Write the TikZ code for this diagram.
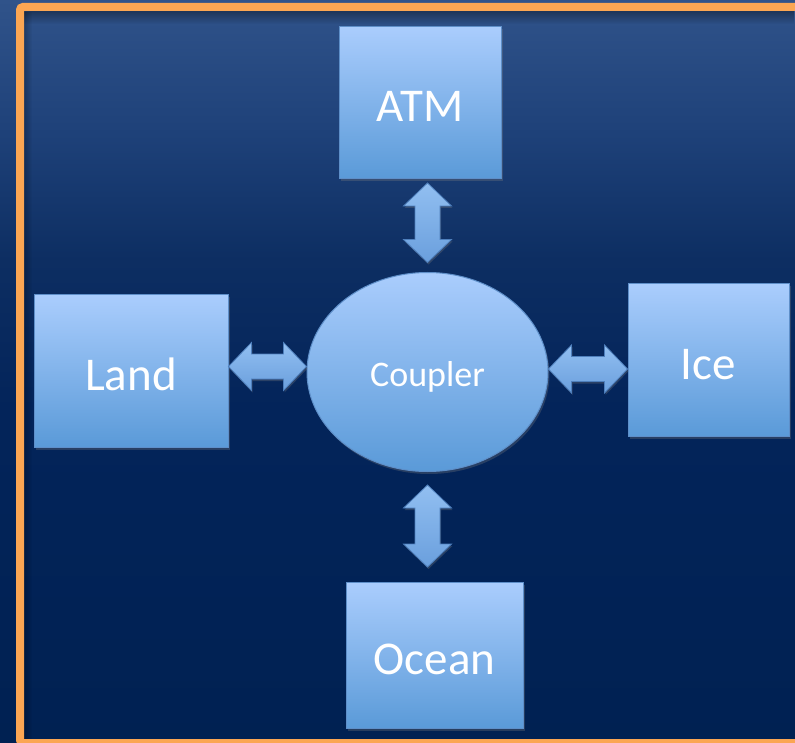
\documentclass[tikz,border=0pt]{standalone}
\usepackage{fontspec}
\setmainfont{Carlito}
\usetikzlibrary{positioning, arrows.meta, calc, shapes.geometric, shadows, fadings}

\definecolor{bgtop}{HTML}{30538A}
\definecolor{bgupper}{HTML}{1E4179}
\definecolor{bgmid}{HTML}{0D2E62}
\definecolor{bglow}{HTML}{03245A}
\definecolor{bgbot}{HTML}{002152}
\definecolor{frameorange}{HTML}{FBA653}
\definecolor{boxtop}{HTML}{AACDFD}
\definecolor{boxbot}{HTML}{5A9AD8}
\definecolor{boxline}{HTML}{5E8FC9}
\definecolor{arrowtop}{HTML}{92BFF1}
\definecolor{arrowbot}{HTML}{6A9FDD}
\definecolor{arrowline}{HTML}{4E7FBC}

% only the middle half (25bp to 75bp) ends up on the page
\pgfdeclareverticalshading{backdrop}{100bp}{color(0bp)=(bgbot); color(25bp)=(bgbot);
    color(47.5bp)=(bglow); color(57.5bp)=(bgmid); color(66bp)=(bgupper); color(75bp)=(bgtop); color(100bp)=(bgtop)}

\begin{document}
\begin{tikzpicture}[x=1pt, y=-1pt,
    modelbox/.style={rectangle, draw=boxline, line width=1pt, top color=boxtop, bottom color=boxbot,
        text=white, font=\fontsize{47}{56}\selectfont, text height=38.3pt, text depth=0pt, inner sep=0pt,
        drop shadow={shadow xshift=1.5pt, shadow yshift=-2.5pt, opacity=0.3}},
    couplernode/.style={ellipse, draw=boxline, line width=1pt, top color=boxtop, bottom color=boxbot,
        text=white, font=\fontsize{36}{43}\selectfont, text height=29.3pt, text depth=0pt, inner sep=0pt,
        minimum width=241pt, minimum height=199pt,
        drop shadow={shadow xshift=1.5pt, shadow yshift=-2.5pt, opacity=0.3}},
    % fat arrow with a head at both ends
    twoway/.style={draw=arrowline, line width=0.8pt, line join=miter, top color=arrowtop, bottom color=arrowbot,
        drop shadow={shadow xshift=1pt, shadow yshift=-2pt, opacity=0.3},
        to path={let \p1=($(\tikztostart)!23pt!(\tikztotarget)$), \p2=($(\tikztotarget)!23pt!(\tikztostart)$) in
            (\tikztostart) -- ($(\p1)!24pt!90:(\tikztotarget)$) -- ($(\p1)!12.5pt!90:(\tikztotarget)$)
            -- ($(\p2)!12.5pt!-90:(\tikztostart)$) -- ($(\p2)!24pt!-90:(\tikztostart)$) -- (\tikztotarget)
            -- ($(\p2)!24pt!90:(\tikztostart)$) -- ($(\p2)!12.5pt!90:(\tikztostart)$)
            -- ($(\p1)!12.5pt!-90:(\tikztotarget)$) -- ($(\p1)!24pt!-90:(\tikztotarget)$) -- cycle}},
]
\useasboundingbox (0,0) rectangle (795,743);
\clip (0,0) rectangle (795,743);
\shade[shading=backdrop] (0,0) rectangle (795,743);

% dark rim just inside the frame
\fill[black, opacity=0.35, path fading=south] (24,11) rectangle (795,24);
\fill[black, opacity=0.25, path fading=east] (24,11) rectangle (32,743);
\draw[frameorange, line width=8pt, rounded corners=3pt] (20,7) rectangle (803,743);

\node[couplernode] (coupler) at (427.5,372) {Coupler};
\node[modelbox, minimum width=162pt, minimum height=152pt](atm)[above = 93pt of coupler, xshift=-7.5pt]{ATM};
\node[modelbox, minimum width=194pt, minimum height=152pt](land)[left = 78pt of coupler, yshift=1pt]{Land};
\node[modelbox, minimum width=161pt, minimum height=152pt](ice)[right = 79pt of coupler, yshift=12pt]{Ice};
\node[modelbox, minimum width=177pt, minimum height=146pt](ocean)[below = 110pt of coupler, xshift=7pt]{Ocean};

% ends of the exchange arrows
\coordinate (atmtip) at ([yshift=-4pt]coupler.north |- atm.south);
\coordinate (cpltop) at ([yshift=9.5pt]coupler.north);
\coordinate (cplbot) at ([yshift=-13pt]coupler.south);
\coordinate (oceantip) at ([yshift=15pt]coupler.south |- ocean.north);
\coordinate (landtip) at ([yshift=5.5pt]coupler.west -| land.east);
\coordinate (cplleft) at ([yshift=5.5pt]coupler.west);
\coordinate (cplright) at ([yshift=3pt]coupler.east);
\coordinate (icetip) at ([yshift=3pt]coupler.east -| ice.west);

\foreach \a/\b in {atmtip/cpltop, cplbot/oceantip, landtip/cplleft, cplright/icetip}
    \draw[twoway] (\a) to (\b);
\end{tikzpicture}
\end{document}
